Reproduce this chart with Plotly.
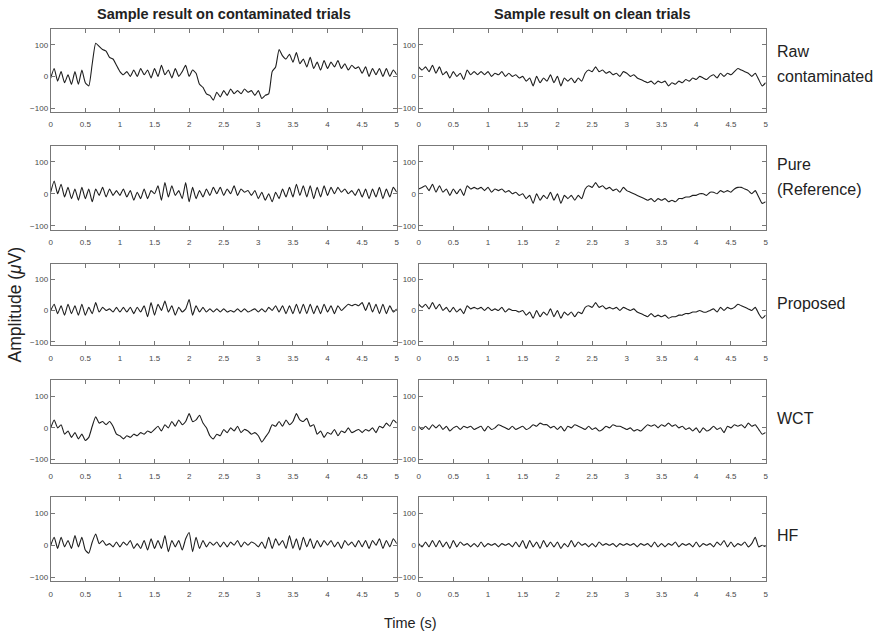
import numpy as np
import plotly.graph_objects as go

# time grid (s), 0.05 s step
t = np.round(np.arange(101) * 0.05, 2)

# ---- contaminated trial (left column) ----
raw_contam = [
    -5, 25, -15, 15, -20, 5, -25, 15, -25, 20,
    -20, -30, 40, 105, 95, 85, 80, 60, 55, 35,
    15, 5, 15, 0, 20, 0, 25, 5, 20, -5,
    25, 0, 35, 5, 20, -5, 25, 0, 15, 35,
    0, 20, 10, -25, -35, -55, -60, -75, -50, -65,
    -45, -60, -40, -55, -45, -55, -40, -50, -45, -60,
    -45, -70, -60, -55, 15, 30, 85, 65, 55, 70,
    45, 75, 40, 55, 30, 60, 25, 45, 20, 50,
    25, 45, 30, 50, 25, 40, 20, 35, 25, 30,
    10, 30, 0, 25, 5, 25, 0, 25, 0, 20,
    5]
pure_contam = [
    5, 40, 0, 30, -10, 20, -15, 15, -20, 20,
    -15, 15, -25, 15, -5, 20, -10, 15, -5, 10,
    -5, 15, -10, 10, -20, 5, -15, 15, -15, 10,
    0, 25, -20, 35, -10, 25, -5, 10, -15, 35,
    -25, 20, -15, 10, -10, 15, -5, 20, 0, 20,
    -5, 15, 0, 25, -5, 15, 5, 10, -5, 10,
    -15, 5, -20, 0, -25, 5, -15, 15, -10, 20,
    -10, 30, -5, 25, -10, 25, -15, 20, -10, 25,
    -5, 20, 0, 20, 5, 15, 0, 10, -5, 15,
    -10, 15, -15, 15, -10, 20, -15, 15, -10, 20,
    5]
proposed_contam = [
    0, 20, -10, 15, -15, 20, -10, 15, -15, 20,
    -15, 10, -10, 25, -5, 10, 0, 5, -5, 10,
    -5, 10, -5, 10, -10, 10, -5, 15, -20, 25,
    -15, 20, 0, 30, -5, 15, -15, 10, -5, 5,
    35, -15, 15, -5, 10, -5, 5, -5, 5, -5,
    5, -5, 0, -5, 5, -5, 5, -5, 0, 5,
    -5, 5, -5, 10, 0, 15, -5, 15, -10, 15,
    -10, 20, -10, 20, -10, 20, -10, 15, -10, 20,
    -5, 15, -10, 15, 0, 10, 20, 15, 20, 15,
    25, 0, 25, -5, 20, -10, 20, -10, 15, -5,
    5]
wct_contam = [
    0, 25, 0, 10, -20, -10, -30, -15, -35, -20,
    -40, -30, 5, 35, 15, 20, 10, 20, 5, -20,
    -25, -35, -25, -30, -20, -25, -15, -20, -10, -15,
    -5, 5, -10, 10, 0, 20, 5, 25, 10, 20,
    45, 20, 25, 40, 15, 0, -25, -35, -20, -25,
    -5, -15, 0, -10, 5, -15, -5, -10, -20, -15,
    -25, -45, -30, -15, 10, 5, 20, 5, 25, 10,
    20, 45, 25, 20, 30, 5, 10, -20, -10, -30,
    -15, -20, -5, -25, -10, -15, 0, -15, -10, -5,
    -15, -5, -10, 0, -15, 5, 0, 15, 5, 25,
    15]
hf_contam = [
    0, 25, -10, 25, -5, 15, -10, 30, -5, 25,
    -15, -25, 10, 35, 5, 15, 0, 5, -5, 10,
    -5, 10, 0, 15, -10, 5, -10, 15, -15, 20,
    -10, 15, -10, 30, -20, 15, -5, 15, -15, 20,
    40, -20, 25, -10, 15, -5, 10, 0, 10, -5,
    10, -5, 10, 0, 15, -5, 10, 0, 10, 5,
    -5, 10, -10, 25, -10, 20, 0, 15, -10, 30,
    -10, 20, -15, 25, -5, 20, -10, 15, -5, 15,
    0, 15, -5, 10, -10, 15, 0, 10, -5, 15,
    -5, 15, -10, 15, 0, 20, -10, 15, -5, 20,
    5]

# ---- clean trial (right column) ----
raw_clean = [
    30, 20, 30, 15, 35, 10, 30, 5, 15, -5,
    15, 0, 10, -10, 20, 5, 15, 5, 15, 5,
    15, 0, 10, 5, 15, 0, 10, 0, 5, -5,
    0, -15, -5, -30, 0, -20, -5, -15, 5, -20,
    0, -30, -5, -15, -5, -20, -5, -15, 10, 20,
    15, 30, 15, 20, 10, 15, 5, 10, 0, 15,
    10, 0, 5, -5, -10, -15, -20, -15, -25, -15,
    -20, -15, -30, -20, -25, -15, -20, -10, -15, -5,
    -10, 0, -5, -10, 0, 5, -5, 10, 0, 10,
    5, 15, 25, 20, 15, 10, 0, 10, -10, -30,
    -20]
pure_clean = [
    15, 20, 25, 10, 30, 5, 25, 5, 15, -5,
    15, 0, 15, -5, 25, 15, 20, 15, 20, 10,
    20, 5, 15, 10, 15, 5, 10, 0, 5, -5,
    0, -15, -5, -30, 0, -20, -5, -15, 5, -20,
    0, -30, -5, -15, -5, -20, -5, -15, 15, 25,
    20, 35, 20, 25, 15, 20, 10, 15, 5, 20,
    10, 5, 0, -5, -10, -15, -20, -15, -25, -15,
    -20, -15, -25, -20, -25, -15, -15, -10, -10, -5,
    -5, 0, 0, -5, 5, 5, 0, 10, 5, 10,
    5, 15, 20, 20, 15, 10, 0, 10, -10, -30,
    -25]
proposed_clean = [
    20, 10, 20, 5, 25, 5, 20, 0, 10, -5,
    10, -5, 5, -10, 15, 5, 10, 5, 10, 0,
    10, 0, 5, 0, 10, -5, 5, 0, 0, -5,
    0, -15, -5, -25, 0, -20, -5, -15, 5, -20,
    0, -25, -5, -15, -5, -20, -5, -10, 10, 15,
    10, 25, 10, 15, 5, 10, 5, 10, 0, 10,
    5, 0, 5, -5, -10, -15, -20, -10, -20, -15,
    -20, -15, -25, -20, -20, -15, -15, -10, -10, -5,
    -5, 0, -5, -5, 0, 5, -5, 10, 0, 10,
    5, 10, 20, 15, 10, 5, 0, 10, -10, -25,
    -15]
wct_clean = [
    5, -5, 5, -5, 10, 0, 10, -5, 5, -10,
    0, 5, -5, 5, 0, 5, -5, 0, 5, -10,
    5, -5, 0, 10, 5, 0, -5, 5, -5, 0,
    5, -5, 0, 10, 5, 15, 10, 10, 0, 5,
    -5, 5, -10, 5, 0, 10, 5, 0, -5, 5,
    -5, 0, -10, -5, 5, 0, 10, 5, 5, 0,
    -5, 0, -10, -5, -10, 0, 10, 5, 10, 0,
    10, 5, 15, 5, 10, 0, 5, -5, 0, -10,
    0, -15, 0, -10, -5, 5, -5, 0, -15, 5,
    0, 10, 5, 10, 0, 15, 5, 10, -5, -20,
    -15]
hf_clean = [
    5, -5, 10, -5, 15, -5, 15, -5, 10, -10,
    15, -5, 10, 0, 5, -5, 5, -5, 10, -5,
    5, 0, 5, -5, 5, 0, 5, -5, 10, -5,
    15, -10, 15, -5, 10, -10, 15, -5, 10, -5,
    10, -10, 5, -5, 15, -5, 10, 0, 5, -5,
    5, -5, 10, 0, 5, 0, 5, -5, 5, 0,
    5, 0, 5, -5, 5, 0, 5, -5, 10, -5,
    5, -5, 5, 0, 10, -5, 5, 0, 5, -5,
    10, -5, 5, 0, 5, -5, 10, 0, 15, -5,
    10, -5, 5, 0, 10, -5, 5, 25, -5, 0,
    -5]

row_labels = [["Raw", "contaminated"], ["Pure", "(Reference)"], ["Proposed"], ["WCT"], ["HF"]]
col_titles = ["Sample result on contaminated trials", "Sample result on clean trials"]
x_ticks = [0, 0.5, 1, 1.5, 2, 2.5, 3, 3.5, 4, 4.5, 5]
y_ticks = [-100, 0, 100]

left_series = [raw_contam, pure_contam, proposed_contam, wct_contam, hf_contam]
right_series = [raw_clean, pure_clean, proposed_clean, wct_clean, hf_clean]

W, H = 880, 637
col_px = [(49, 397), (419, 768)]
row_px = [(29, 112), (146, 230), (264, 346), (381, 464), (498, 582)]

fig = go.Figure()
layout = dict(
    width=W, height=H, margin=dict(l=0, r=0, t=0, b=0),
    paper_bgcolor="white", plot_bgcolor="white", showlegend=False,
    font=dict(family="Liberation Sans, Arial, sans-serif", color="#222"),
)

tick_font = dict(family="Liberation Sans, Arial, sans-serif", size=8, color="#4a4a4a")
n = 0
for r in range(5):
    for c in range(2):
        n += 1
        ys = left_series[r] if c == 0 else right_series[r]
        xa = "x" if n == 1 else f"x{n}"
        ya = "y" if n == 1 else f"y{n}"
        fig.add_trace(go.Scatter(x=t, y=ys, mode="lines", xaxis=xa, yaxis=ya,
                                 line=dict(color="#1e1e1e", width=1.1, shape="spline", smoothing=0.5),
                                 hoverinfo="skip"))
        x0, x1 = col_px[c]
        top, bot = row_px[r]
        kx = "xaxis" if n == 1 else f"xaxis{n}"
        ky = "yaxis" if n == 1 else f"yaxis{n}"
        layout[kx] = dict(domain=[x0 / W, x1 / W], anchor=ya, range=[0, 5],
                          tickvals=x_ticks, ticks="inside", ticklen=4, tickcolor="#777",
                          showline=True, linecolor="#777", linewidth=1, mirror="ticks",
                          showgrid=False, zeroline=False, tickfont=tick_font,
                          ticklabelstandoff=5)
        layout[ky] = dict(domain=[1 - bot / H, 1 - top / H], anchor=xa, range=[-112, 150],
                          tickvals=y_ticks, ticks="inside", ticklen=4, tickcolor="#777",
                          showline=True, linecolor="#777", linewidth=1, mirror="ticks",
                          showgrid=False, zeroline=False, tickfont=tick_font)

fig.update_layout(**layout)

ann = []
for c, title in enumerate(col_titles):
    x0, x1 = col_px[c]
    ann.append(dict(text=f"<b>{title}</b>", x=(x0 + x1) / 2 / W, y=1 - 14 / H,
                    xref="paper", yref="paper", xanchor="center", yanchor="middle",
                    showarrow=False, font=dict(size=14.5, color="#222")))
label_y = [[52, 77], [165, 190], [304], [419], [536]]
for lines, ys in zip(row_labels, label_y):
    for txt, yy in zip(lines, ys):
        ann.append(dict(text=txt, x=777 / W, y=1 - yy / H, xref="paper", yref="paper",
                        xanchor="left", yanchor="middle", showarrow=False,
                        font=dict(size=16, color="#222")))
ann.append(dict(text="Amplitude (<i>μ</i>V)", x=13 / W, y=1 - 305 / H, xref="paper", yref="paper",
                xanchor="center", yanchor="middle",
                textangle=-90, showarrow=False, font=dict(size=17.5, color="#222")))
ann.append(dict(text="Time (s)", x=411 / W, y=1 - 624 / H, xref="paper", yref="paper",
                xanchor="center", yanchor="middle",
                showarrow=False, font=dict(size=14.5, color="#222")))
fig.update_layout(annotations=ann)

fig.write_html("out.html", config={"displayModeBar": False},
               post_script="document.body.style.margin='0px';")
